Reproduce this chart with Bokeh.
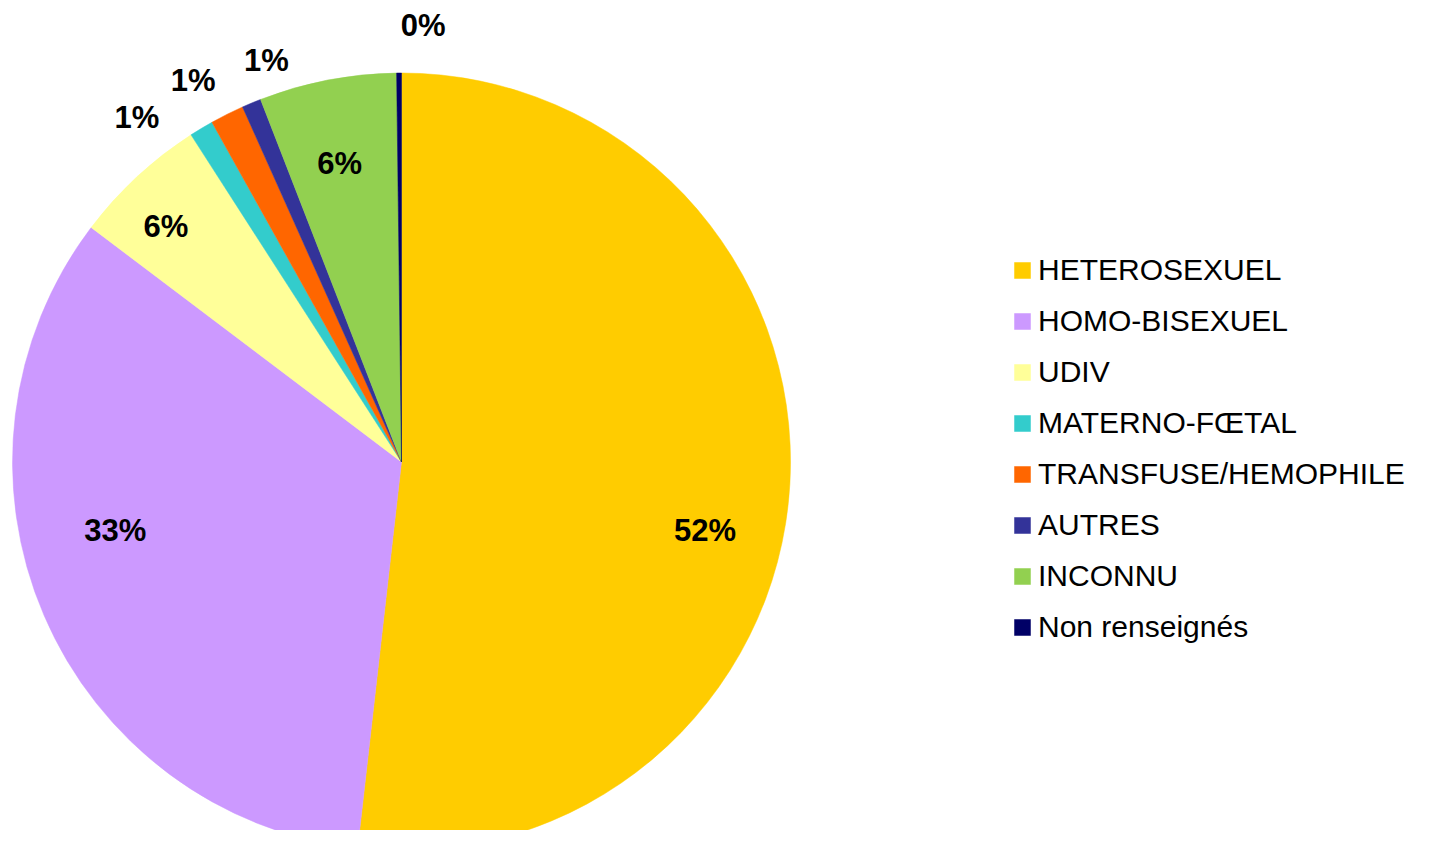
import math
from bokeh.plotting import figure
from bokeh.models import ColumnDataSource
from bokeh.core.properties import value
from bokeh.embed import file_html
from bokeh.resources import INLINE

# ---- data ----
categories = ["HETEROSEXUEL", "HOMO-BISEXUEL", "UDIV", "MATERNO-FŒTAL",
              "TRANSFUSE/HEMOPHILE", "AUTRES", "INCONNU", "Non renseignés"]
shares = [51.8, 33.5, 5.6, 1.0, 1.4, 0.8, 5.7, 0.2]
pct_labels = ["52%", "33%", "6%", "1%", "1%", "1%", "6%", "0%"]

# ---- styles ----
colors = ["#FFCC00", "#CC99FF", "#FFFF99", "#33CCCC",
          "#FF6600", "#333399", "#92D050", "#000066"]
label_angle_offset = [9.5, 9.7, -2.1, -6.6, -2.0, 4.1, -0.7, 3.2]  # degrees
label_radius = [0.80, 0.757, 0.857, 1.116, 1.118, 1.089, 0.784, 1.123]

W, H = 1413, 830
cx, cy, R = 401.0, 368.5, 389.0

total = sum(shares)
starts, ends, lx, ly = [], [], [], []
cum = 0.0
for i, s in enumerate(shares):
    t1 = cum / total * 360.0
    cum += s
    t2 = cum / total * 360.0
    # clockwise from 12 o'clock -> bokeh anticlockwise from +x
    starts.append(math.radians(90.0 - t2))
    ends.append(math.radians(90.0 - t1))
    mid = (t1 + t2) / 2.0 + label_angle_offset[i]
    r = label_radius[i] * R
    lx.append(cx + r * math.sin(math.radians(mid)))
    ly.append(cy + r * math.cos(math.radians(mid)))

src = ColumnDataSource(dict(category=categories, share=shares, start=starts,
                            end=ends, color=colors))
lab = ColumnDataSource(dict(x=lx, y=ly, text=pct_labels))

p = figure(width=W, height=H, x_range=(0, W), y_range=(0, H),
           output_backend="svg", toolbar_location=None, min_border=0)
p.axis.visible = False
p.grid.visible = False
p.outline_line_color = None

p.wedge(x=cx, y=cy, radius=R, start_angle="start", end_angle="end",
        fill_color="color", line_color="color", line_width=0.5,
        source=src, legend_field="category")

p.text(x="x", y="y", text="text", source=lab,
       text_font=value("Liberation Sans"), text_font_style="bold",
       text_font_size="31px", text_align="center", text_baseline="middle",
       text_color="black")

lg = p.legend[0]
lg.location = (1012, 185)
lg.border_line_color = None
lg.background_fill_alpha = 0
lg.padding = 0
lg.margin = 0
lg.glyph_width = 20
lg.glyph_height = 20
lg.label_standoff = 6
lg.label_text_font = "Liberation Sans"
lg.label_text_font_size = "30px"
lg.label_text_color = "black"
lg.label_height = 36
lg.spacing = 15

open("out.html", "w").write(file_html(p, INLINE))
